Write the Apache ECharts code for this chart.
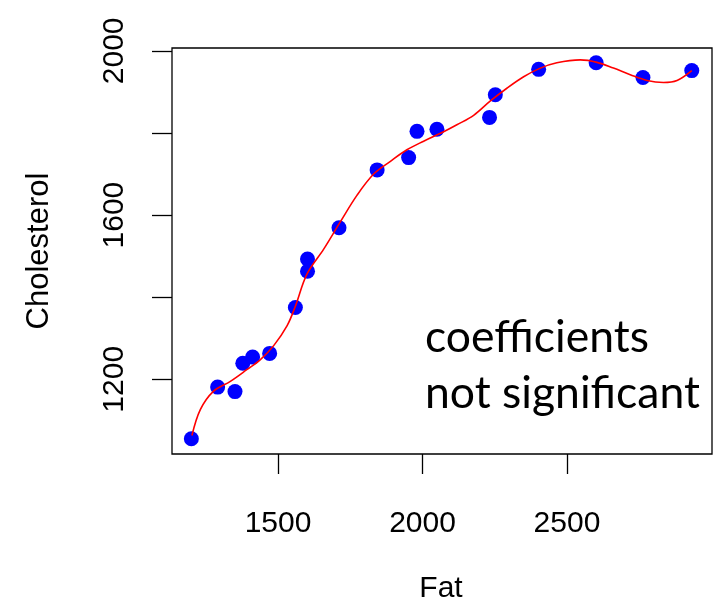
<!DOCTYPE html>
<html>
<head>
<meta charset="utf-8">
<script src="https://cdn.jsdelivr.net/npm/echarts@6/dist/echarts.min.js"></script>
<style>html,body{margin:0;padding:0;background:#fff}#c{width:724px;height:605px}</style>
</head>
<body>
<div id="c"></div>
<script>
// Observed data
const fat  = [1200,1291,1351,1378,1412,1471,1560,1602,1602,1711,1843,1952,1981,2050,2232,2252,2402,2601,2763,2932];
const chol = [1055,1181,1170,1239,1254,1263,1375,1493,1463,1569,1710,1740,1804,1809,1838,1893,1955,1971,1935,1952];
// Fitted curve
const fitX = [1202,1231,1277,1335,1393,1439,1485,1531,1560,1600,1658,1716,1773,1831,1889,1946,2004,2073,2119,2177,2235,2292,2350,2408,2465,2546,2604,2661,2719,2777,2834,2881,2932];
const fitY = [1063,1126,1171,1195,1224,1248,1282,1330,1378,1456,1517,1584,1648,1700,1731,1759,1780,1803,1820,1843,1878,1909,1937,1958,1971,1978,1972,1958,1942,1928,1923,1928,1952];
// Ticks
const xTicks = [1500,2000,2500];
const yTicks = [1200,1400,1600,1800,2000];
const yLabels = [1200,1600,2000];
const xTitle = 'Fat';
const yTitle = 'Cholesterol';
const note1 = 'coefficients';
const note2 = 'not significant';

const chart = echarts.init(document.getElementById('c'));
const font = 'Liberation Sans, Arial, sans-serif';
chart.setOption({
  animation: false,
  grid: {left: 172, top: 48, width: 540, height: 406, show: true, borderColor: '#000', borderWidth: 1.3, backgroundColor: 'transparent'},
  xAxis: {
    type: 'value', min: 1133, max: 3002,
    axisLine: {show: false},
    splitLine: {show: false},
    axisTick: {show: true, customValues: xTicks, length: 20, lineStyle: {color: '#000', width: 1.3}},
    axisLabel: {customValues: xTicks, fontSize: 30, fontFamily: font, color: '#000', margin: 55, formatter: v => String(v)}
  },
  yAxis: {
    type: 'value', min: 1018, max: 2007,
    axisLine: {show: false},
    splitLine: {show: false},
    axisTick: {show: true, customValues: yTicks, length: 20, lineStyle: {color: '#000', width: 1.3}},
    axisLabel: {customValues: yLabels, fontSize: 30, fontFamily: font, color: '#000', margin: 42, rotate: 90, formatter: v => String(v)}
  },
  series: [
    {type: 'scatter', data: fat.map((v, i) => [v, chol[i]]), symbol: 'circle', symbolSize: 15,
     itemStyle: {color: '#0000FF', opacity: 1}, z: 2},
    {type: 'line', data: fitX.map((v, i) => [v, fitY[i]]), smooth: 0.35, showSymbol: false, symbol: 'none',
     lineStyle: {color: '#FF0000', width: 1.6}, z: 3}
  ],
  graphic: [
    {type: 'text', x: 441, y: 589, style: {text: xTitle, font: '30px ' + font, fill: '#000', align: 'center', verticalAlign: 'middle'}},
    {type: 'text', x: 39, y: 251, rotation: Math.PI / 2, style: {text: yTitle, font: '31px ' + font, fill: '#000', align: 'center', verticalAlign: 'middle'}},
    {type: 'text', x: 425, y: 338, style: {text: note1, font: '44.5px Lato, sans-serif', fill: '#000', align: 'left', verticalAlign: 'middle'}},
    {type: 'text', x: 425, y: 394, style: {text: note2, font: '44.5px Lato, sans-serif', fill: '#000', align: 'left', verticalAlign: 'middle'}}
  ]
});
</script>
</body>
</html>
